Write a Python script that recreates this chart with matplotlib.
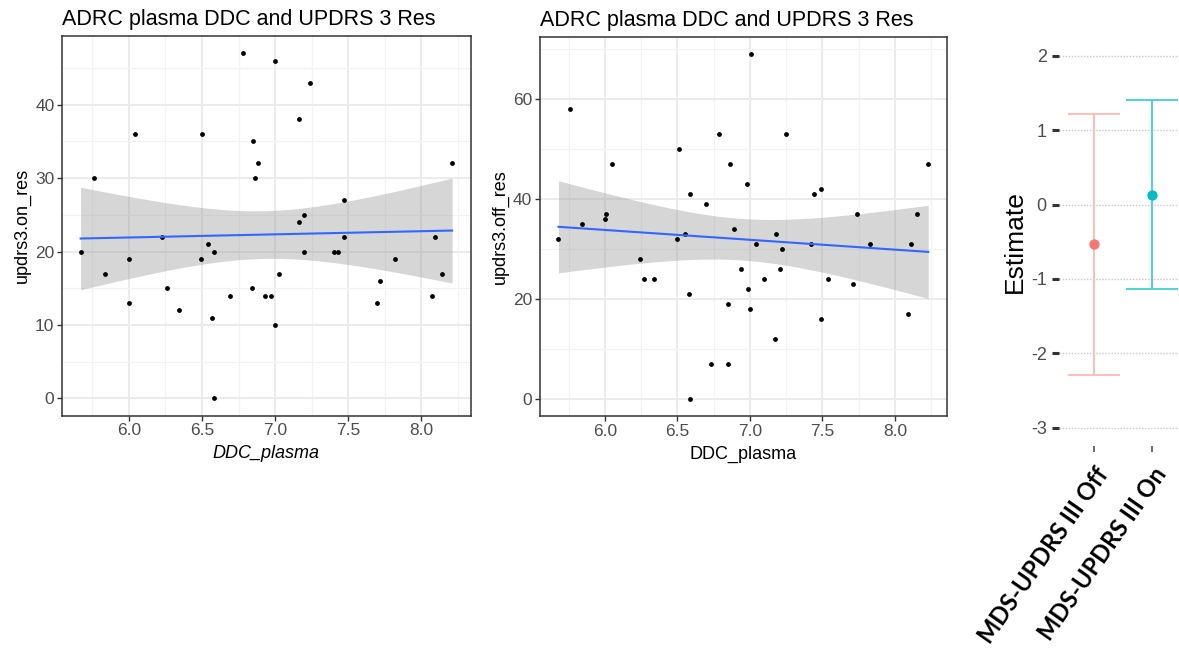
import numpy as np
import matplotlib
matplotlib.use("Agg")
import matplotlib.pyplot as plt
import matplotlib.ticker as mticker

plt.rcParams['font.family'] = ['Liberation Sans', 'DejaVu Sans']
plt.rcParams['axes.unicode_minus'] = False

# ---- data ----
ddc_on = [6.78, 7.00, 7.24, 6.04, 6.50, 7.16, 6.85, 6.88, 8.21, 5.76, 6.86, 7.47, 7.16, 7.20,
          6.23, 7.47, 8.09, 6.54, 5.67, 6.58, 7.20, 7.40, 7.43, 6.00, 6.49, 7.82, 5.84, 7.03,
          8.14, 6.00, 6.26, 6.34, 6.57, 6.58, 6.69, 6.84, 6.93, 6.97, 7.00, 7.70, 7.72, 8.07]
upd_on = [47, 46, 43, 36, 36, 38, 35, 32, 32, 30, 30, 27, 24, 25,
          22, 22, 22, 21, 20, 20, 20, 20, 20, 19, 19, 19, 17, 17,
          17, 13, 15, 12, 11, 0, 14, 15, 14, 14, 10, 13, 16, 14]

ddc_off = [7.01, 5.76, 6.79, 7.25, 6.51, 6.05, 6.86, 8.23, 6.98, 6.59, 7.49, 7.44, 6.70, 6.01,
           7.74, 8.15, 6.00, 5.84, 6.89, 5.68, 6.50, 6.55, 7.18, 7.04, 7.42, 7.83, 8.11, 7.22,
           6.24, 6.94, 7.21, 6.27, 6.34, 7.10, 7.54, 7.71, 6.58, 6.99, 6.85, 7.00, 7.49, 8.09,
           7.17, 6.73, 6.85, 6.59]
upd_off = [69, 58, 53, 53, 50, 47, 47, 47, 43, 41, 42, 41, 39, 37,
           37, 37, 36, 35, 34, 32, 32, 33, 33, 31, 31, 31, 31, 30,
           28, 26, 26, 24, 24, 24, 24, 23, 21, 22, 19, 18, 16, 17,
           12, 7, 7, 0]

est_labels = ["MDS-UPDRS III Off", "MDS-UPDRS III On"]
est_vals = [-0.535, 0.125]
est_lo = [-2.29, -1.14]
est_hi = [1.21, 1.405]
est_cols = ['#F8766D', '#00BFC4']
bar_cols = ['#FBBDB8', '#4DD2D6']

title = "ADRC plasma DDC and UPDRS 3 Res"

fig = plt.figure(figsize=(11.79, 6.53), dpi=100)


def lm_panel(ax, x, y, ylab, xlab_style, yticks):
    x = np.asarray(x, float)
    y = np.asarray(y, float)
    # grid like theme_bw
    ax.set_axisbelow(True)
    ax.xaxis.set_major_locator(mticker.MultipleLocator(0.5))
    ax.xaxis.set_minor_locator(mticker.MultipleLocator(0.25))
    ax.set_yticks(yticks)
    ax.yaxis.set_minor_locator(mticker.AutoMinorLocator(2))
    ax.grid(True, which='major', color='#EBEBEB', lw=1.4)
    ax.grid(True, which='minor', color='#F2F2F2', lw=0.9)
    ax.tick_params(which='minor', length=0)
    ax.tick_params(which='major', length=3.5, width=1, color='#333333',
                   labelcolor='#4D4D4D', labelsize=12.5, pad=2)

    # linear fit with 95% band
    n = len(x)
    b, a = np.polyfit(x, y, 1)
    xs = np.linspace(x.min(), x.max(), 80)
    fit = a + b * xs
    resid = y - (a + b * x)
    s = np.sqrt(np.sum(resid ** 2) / (n - 2))
    sxx = np.sum((x - x.mean()) ** 2)
    se = s * np.sqrt(1.0 / n + (xs - x.mean()) ** 2 / sxx)
    tcrit = 2.02
    ax.fill_between(xs, fit - tcrit * se, fit + tcrit * se, color='#999999',
                    alpha=0.4, lw=0, zorder=2)
    ax.scatter(x, y, s=12, color='black', zorder=3, lw=0)
    ax.plot(xs, fit, color='#3366FF', lw=1.5, zorder=4)

    xr = x.max() - x.min()
    ax.set_xlim(x.min() - 0.05 * xr, x.max() + 0.05 * xr)
    yr = y.max() - y.min()
    ax.set_ylim(y.min() - 0.05 * yr, y.max() + 0.05 * yr)
    for sp in ax.spines.values():
        sp.set_color('#333333')
        sp.set_linewidth(1.1)
    ax.set_xlabel("DDC_plasma", fontsize=13, style=xlab_style, labelpad=5)
    ax.set_ylabel(ylab, fontsize=13, labelpad=3)
    ax.set_title(title, fontsize=15.5, loc='left', pad=8)


ax1 = fig.add_axes([0.0526, 0.3634, 0.3466, 0.5815])
lm_panel(ax1, ddc_on, upd_on, "updrs3.on_res", 'italic', [0, 10, 20, 30, 40])

ax2 = fig.add_axes([0.458, 0.3629, 0.345, 0.581])
lm_panel(ax2, ddc_off, upd_off, "updrs3.off_res", 'normal', [0, 20, 40, 60])

# ---- estimate panel ----
ax3 = fig.add_axes([0.8984, 0.3165, 0.1082, 0.6267])
pos = np.arange(1, len(est_labels) + 1)
for i in range(len(est_labels)):
    yerr = [[est_vals[i] - est_lo[i]], [est_hi[i] - est_vals[i]]]
    ax3.errorbar(pos[i], est_vals[i], yerr=yerr, fmt='none', ecolor=bar_cols[i],
                 elinewidth=1.4, capsize=19, capthick=1.4, zorder=2)
    ax3.scatter(pos[i], est_vals[i], s=55, color=est_cols[i], zorder=3, lw=0)
ax3.set_xlim(0.4, 2.6)
ax3.set_ylim(-3.25, 2.25)
ax3.set_yticks([-3, -2, -1, 0, 1, 2])
ax3.set_xticks(pos)
ax3.set_xticklabels(est_labels, rotation=55, ha='right', va='top', rotation_mode='anchor',
                    fontsize=17, fontweight='bold', family=['Lato', 'DejaVu Sans'])
ax3.grid(True, axis='y', color='#C8C8C8', lw=1, ls=(0, (1, 1.2)))
for sp in ax3.spines.values():
    sp.set_visible(False)
ax3.tick_params(axis='y', length=5, width=2.2, color='#333333', labelcolor='#4D4D4D',
                labelsize=13, pad=4)
ax3.tick_params(axis='x', length=4, width=1.2, color='#555555', pad=8)
ax3.set_ylabel("Estimate", fontsize=19, labelpad=3)

fig.savefig("out.png", dpi=100, facecolor="w")
